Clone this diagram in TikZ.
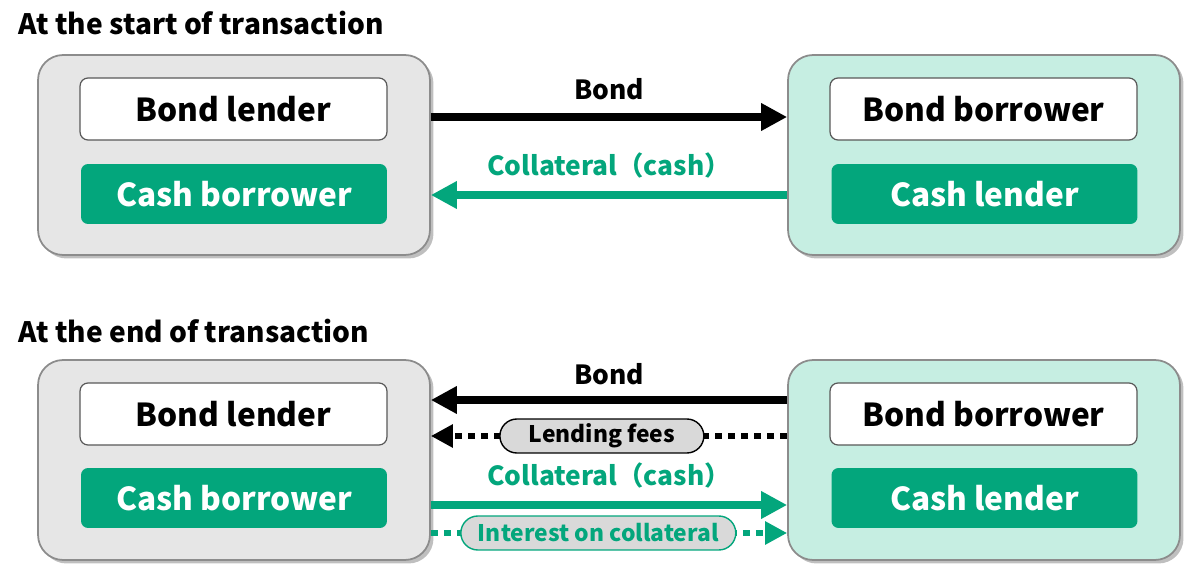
\documentclass[tikz,border=0pt]{standalone}
\usepackage{fontspec}
\setmainfont{Noto Sans CJK JP}
\usetikzlibrary{arrows.meta,calc,shadows}
\definecolor{repogreen}{RGB}{3,166,124}
\definecolor{repomint}{RGB}{198,238,226}
\definecolor{repogray}{RGB}{230,230,230}
\definecolor{pillgray}{RGB}{217,217,217}
\tikzset{
  party/.style = {draw=black!45, line width=1pt, rounded corners=0.5cm,
    minimum width=7.84cm, minimum height=4cm,
    drop shadow={shadow xshift=2pt, shadow yshift=-2pt, opacity=0.5}},
  rolebox/.style = {draw=black!65, line width=0.7pt, fill=white, rounded corners=0.16cm,
    minimum width=6.14cm, minimum height=1.24cm, font=\fontsize{18}{21}\selectfont\bfseries},
  cashbox/.style = {fill=repogreen, text=white, rounded corners=0.14cm,
    minimum width=6.12cm, minimum height=1.2cm, font=\fontsize{18}{21}\selectfont\bfseries},
  flow/.style = {line width=4.6pt, -{Triangle[length=0.52cm, width=0.52cm]}},
  fee/.style = {line width=3.8pt, dash pattern=on 4pt off 3.4pt, -{Triangle[length=0.44cm, width=0.44cm]}},
  pill/.style = {solid, fill=pillgray, line width=0.8pt, rounded corners=0.34cm,
    inner sep=0pt, minimum height=0.68cm, font=\fontsize{13}{15}\selectfont\bfseries},
  flowlabel/.style = {font=\fontsize{15}{17}\selectfont\bfseries},
  heading/.style = {anchor=base west, inner sep=0pt, font=\fontsize{16}{18}\selectfont\bfseries}
}
\begin{document}
\begin{tikzpicture}[x=0.02cm, y=-0.02cm]
  \useasboundingbox (0,0) rectangle (1184,564);

  % start of transaction
  \node [heading] (t1) at (18,35) {At the start of transaction};
  \node [party, fill=repogray] (lo1) at (234,155) {};
  \node [party, fill=repomint] (ro1) at (984,155) {};
  \node [rolebox] (bl1) at (233.5,109) {Bond lender};
  \node [cashbox] (cb1) at (234,194) {Cash borrower};
  \node [rolebox] (bb1) at (983.5,109) {Bond borrower};
  \node [cashbox] (cl1) at (984.5,194) {Cash lender};
  \draw [flow] ($(lo1.east)+(0,-38)$) -- ($(ro1.west)+(0,-38)$)
    node [flowlabel, midway, above = 4pt] (b1) {Bond};
  \draw [flow, repogreen] ($(ro1.west)+(0,40)$) -- ($(lo1.east)+(0,40)$)
    node [flowlabel, midway, above = 4pt] (c1) {Collateral（cash）};

  % end of transaction
  \node [heading] (t2) at (18,343) {At the end of transaction};
  \node [party, fill=repogray] (lo2) at (234,460) {};
  \node [party, fill=repomint] (ro2) at (984,460) {};
  \node [rolebox] (bl2) at (233.5,414) {Bond lender};
  \node [cashbox] (cb2) at (234,498) {Cash borrower};
  \node [rolebox] (bb2) at (983.5,414) {Bond borrower};
  \node [cashbox] (cl2) at (984.5,498) {Cash lender};
  \draw [flow] ($(ro2.west)+(0,-60)$) -- ($(lo2.east)+(0,-60)$)
    node [flowlabel, midway, above = 3pt] (b2) {Bond};
  \draw [fee] ($(ro2.west)+(0,-24)$) -- ($(lo2.east)+(0,-24)$)
    node [pill, draw=black, minimum width=4.08cm, pos=0.52] (lf) {Lending fees};
  \draw [flow, repogreen] ($(lo2.east)+(0,45)$) -- ($(ro2.west)+(0,45)$)
    node [flowlabel, midway, above = 4pt] (c2) {Collateral（cash）};
  \draw [fee, repogreen] ($(lo2.east)+(0,73)$) -- ($(ro2.west)+(0,73)$)
    node [pill, draw=repogreen, text=repogreen, minimum width=5.5cm, pos=0.47] (ic) {Interest on collateral};
\end{tikzpicture}
\end{document}
